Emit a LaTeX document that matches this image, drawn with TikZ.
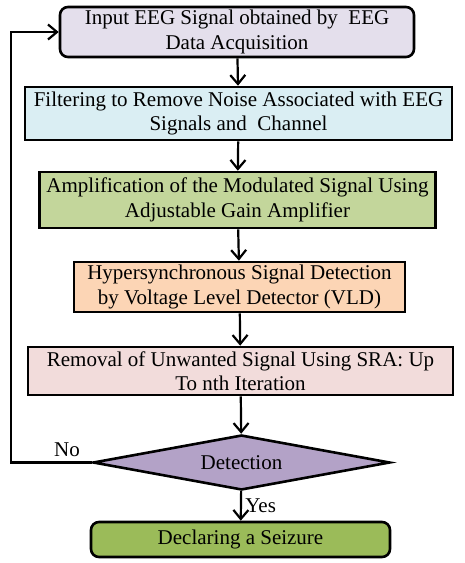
\documentclass[tikz,border=0pt]{standalone}
\usepackage{fontspec}
\setmainfont{Liberation Serif}
\usetikzlibrary{shapes.geometric,arrows.meta}

\definecolor{inputcol}{HTML}{E4DFEC}
\definecolor{filtercol}{HTML}{DAEEF3}
\definecolor{ampcol}{HTML}{C3D69B}
\definecolor{vldcol}{HTML}{FCD5B5}
\definecolor{sracol}{HTML}{F2DCDB}
\definecolor{deccol}{HTML}{B3A2C7}
\definecolor{seizcol}{HTML}{9BBB59}

\tikzset{
  blockbox/.style={draw, line width=2.6pt, align=center, inner sep=0pt},
  roundbox/.style={blockbox, rounded corners=8pt},
  flow/.style={-{Straight Barb[length=9pt,width=15pt]}, line width=2.2pt}
}

\begin{document}
\begin{tikzpicture}[x=1pt,y=-1pt,font=\fontsize{21}{24.5}\selectfont]
\useasboundingbox (0,0) rectangle (465,563);
\node[roundbox, fill=inputcol, minimum width=354pt, minimum height=50pt] (input) at (237,32)
  {Input EEG Signal obtained by\ \ EEG\\ Data Acquisition};
\node[blockbox, fill=filtercol, minimum width=427pt, minimum height=53pt] (filter) at (238.5,113.5)
  {Filtering to Remove Noise Associated with EEG\\ Signals and\ \ Channel};
\node[blockbox, fill=ampcol, minimum width=396pt, minimum height=56pt] (amp) at (237.5,200)
  {Amplification of the Modulated Signal Using\\ Adjustable Gain Amplifier};
\node[blockbox, fill=vldcol, minimum width=331pt, minimum height=50pt] (vld) at (239.5,287)
  {Hypersynchronous Signal Detection\\ by Voltage Level Detector (VLD)};
\node[blockbox, fill=sracol, minimum width=425pt, minimum height=48pt] (sra) at (240.5,371)
  {Removal of Unwanted Signal Using SRA: Up\\ To nth Iteration};
\node[blockbox, diamond, aspect=5.4, fill=deccol, minimum width=297pt, minimum height=55pt] (detect) at (241.5,462.5)
  {Detection};
\node[roundbox, fill=seizcol, minimum width=299pt, minimum height=35pt] (seizure) at (240.5,539.5)
  {Declaring a Seizure};
\coordinate (loop) at (11,462.5);
% main chain
\draw[flow] (input) -- (filter);
\draw[flow] (filter) -- (amp);
\draw[flow] (amp) -- (vld);
\draw[flow] (vld) -- (sra);
\draw[flow] (sra) -- (detect);
\draw[flow] (detect) -- (seizure) node[midway,right] {Yes};
% back to the input
\draw[flow] (detect.west) -- (loop) |- (input.west);
\node (nolabel) at (67,450) {No};
\end{tikzpicture}
\end{document}
